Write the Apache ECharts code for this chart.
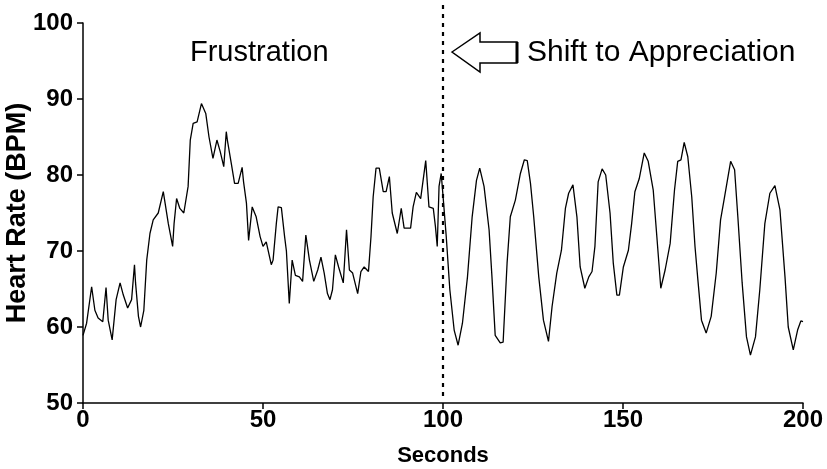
<!DOCTYPE html>
<html>
<head>
<meta charset="utf-8">
<script src="https://cdn.jsdelivr.net/npm/echarts@6/dist/echarts.min.js"></script>
<style>html,body{margin:0;padding:0;background:#fff;}#c{width:827px;height:469px;}</style>
</head>
<body>
<div id="c"></div>
<script>
// Time (seconds) of each read vertex
var seconds = [0,1,2.4,3.3,4.2,5.5,6.4,7.0,8.1,9.2,10.3,11.2,12.4,13.5,14.3,14.6,15.4,16.0,16.9,17.7,18.6,19.5,20.9,22.3,23.7,24.9,25.3,26.0,26.9,28.0,28.5,29.2,29.8,30.6,31.7,32.9,34.1,35.0,36.1,37.2,38.1,39.1,39.8,40.1,41.2,42.1,43.1,44.2,44.6,45.4,46.0,47.0,48.1,49.2,50.0,50.9,52.3,52.8,53.7,54.2,55.1,56.0,56.5,57.3,58.1,59.0,60.1,61.0,61.9,62.9,64.1,65.2,66.1,67.0,67.9,68.6,69.3,70.1,71.0,72.3,73.2,74.0,74.9,76.3,77.2,78.1,79.3,80.0,80.6,81.4,82.3,83.4,84.2,85.1,85.9,87.3,88.4,89.2,91.0,91.7,92.6,93.8,95.2,96.1,97.3,97.9,98.4,98.9,99.5,100.1,100.9,101.9,103.1,104.2,105.4,106.8,108.1,109.3,110.2,111.4,112.8,113.6,114.5,115.9,116.7,117.8,118.7,120.1,121.5,122.6,123.4,124.3,125.2,126.6,127.9,129.3,130.3,131.6,132.9,134.0,134.9,136.1,137.2,138.1,139.4,140.5,141.4,142.2,143.1,144.2,145.2,146.4,147.3,148.3,149.0,150.1,151.5,152.4,153.3,154.5,155.9,157.0,158.4,159.4,160.5,161.7,163.1,164.3,165.2,166.1,167.0,168.0,169.1,170.0,170.8,171.8,173.1,174.5,175.9,177.1,178.2,179.9,181.0,181.9,183.1,184.3,185.4,186.8,188.0,189.4,190.8,192.2,193.6,195.0,195.9,197.3,198.5,199.4,200];
// Heart rate (BPM) at each vertex
var heartRate = [58.9,60.5,65.3,62.2,61.2,60.7,65.2,60.9,58.3,63.6,65.8,64.2,62.5,63.6,68.2,65.8,61.4,60.0,62.2,68.8,72.3,74.1,75.0,77.8,73.6,70.6,73.6,76.9,75.6,75.0,75.2,78.5,84.6,86.8,87.0,89.4,88.1,85.0,82.2,84.6,83.1,81.1,85.7,84.6,81.5,78.9,78.9,81.0,79.1,76.3,71.4,75.8,74.5,71.9,70.6,71.2,68.2,68.8,73.6,75.8,75.7,71.9,70.0,63.1,68.8,66.8,66.6,66.0,72.1,68.8,66.0,67.5,69.2,67.1,64.4,63.6,64.9,69.5,67.9,65.8,72.8,67.5,67.1,64.4,67.3,67.9,67.3,71.9,77.1,80.9,80.9,77.8,77.8,79.8,75.0,72.3,75.6,73.0,73.0,75.8,77.7,76.9,81.9,75.8,75.6,73.2,70.6,78.5,80.2,76.7,71.9,64.9,59.6,57.6,60.5,66.6,74.5,79.3,80.9,78.5,72.8,66.6,58.9,57.9,58.0,68.4,74.5,76.7,80.2,82.0,81.9,78.9,74.5,66.6,60.9,58.1,62.7,67.1,70.1,75.6,77.6,78.7,74.5,67.9,65.1,66.6,67.3,70.6,79.1,80.8,80.0,75.0,68.4,64.2,64.2,67.9,70.1,73.6,77.8,79.5,82.9,81.8,78.0,71.9,65.1,67.5,71.0,78.0,81.8,82.0,84.3,82.4,77.1,70.6,66.2,60.9,59.2,61.4,67.1,74.1,77.1,81.8,80.7,74.5,65.8,58.7,56.3,58.7,64.9,73.6,77.6,78.6,75.4,66.6,60.0,57.0,59.6,60.8,60.7];
var xTicks = [0, 50, 100, 150, 200];
var yTicks = [50, 60, 70, 80, 90, 100];
var shiftTime = 100;
var phaseLabels = ["Frustration", "Shift to Appreciation"];

var series = seconds.map(function (t, i) { return [t, heartRate[i]]; });

var labelFont = "'Liberation Sans', Arial, sans-serif";
var chart = echarts.init(document.getElementById('c'), null, {renderer: 'canvas'});
chart.setOption({
  animation: false,
  backgroundColor: '#fff',
  grid: {left: 83, right: 24, top: 23, bottom: 66, containLabel: false, outerBoundsMode: 'none'},
  xAxis: {
    type: 'value', min: xTicks[0], max: xTicks[xTicks.length - 1], interval: 50,
    name: 'Seconds', nameLocation: 'middle', nameGap: 42, nameMoveOverlap: false,
    nameTextStyle: {fontFamily: labelFont, fontWeight: 'bold', fontSize: 22, color: '#000'},
    axisLine: {show: true, lineStyle: {color: '#000', width: 1.5}},
    axisTick: {show: true, inside: false, length: 6, lineStyle: {color: '#000', width: 1.5}},
    axisLabel: {fontFamily: labelFont, fontWeight: 'bold', fontSize: 24, color: '#000', margin: 5},
    splitLine: {show: false}
  },
  yAxis: {
    type: 'value', min: yTicks[0], max: yTicks[yTicks.length - 1], interval: 10,
    name: 'Heart Rate (BPM)', nameLocation: 'middle', nameGap: 52, nameMoveOverlap: false,
    nameTextStyle: {fontFamily: labelFont, fontWeight: 'bold', fontSize: 27, color: '#000'},
    axisLine: {show: true, lineStyle: {color: '#000', width: 1.5}},
    axisTick: {show: true, inside: false, length: 6, lineStyle: {color: '#000', width: 1.5}},
    axisLabel: {fontFamily: labelFont, fontWeight: 'bold', fontSize: 24, color: '#000', margin: 10},
    splitLine: {show: false}
  },
  series: [{
    type: 'line', data: series, showSymbol: false, smooth: false,
    lineStyle: {color: '#000', width: 1.3}
  }]
});

var xp = chart.convertToPixel({gridIndex: 0}, [shiftTime, 50]);
chart.setOption({
  graphic: [
    {type: 'line', shape: {x1: xp[0], y1: 5, x2: xp[0], y2: xp[1] - 3},
     style: {stroke: '#000', lineWidth: 2.2, lineDash: [4, 5]}, z: 10},
    {type: 'text', left: 190, top: 38,
     style: {text: phaseLabels[0], font: "29px 'Liberation Sans', Arial, sans-serif", fill: '#000'}},
    {type: 'text', left: 527, top: 38,
     style: {text: phaseLabels[1], font: "30px 'Liberation Sans', Arial, sans-serif", fill: '#000'}},
    {type: 'polygon', shape: {points: [[452, 52], [480, 33], [480, 42], [517, 42], [517, 63], [480, 63], [480, 72]]},
     style: {fill: '#fff', stroke: '#000', lineWidth: 1.5}, z: 11},
    {type: 'line', shape: {x1: 517, y1: 42, x2: 517, y2: 63}, style: {stroke: '#000', lineWidth: 3}, z: 12}
  ]
});
</script>
</body>
</html>
